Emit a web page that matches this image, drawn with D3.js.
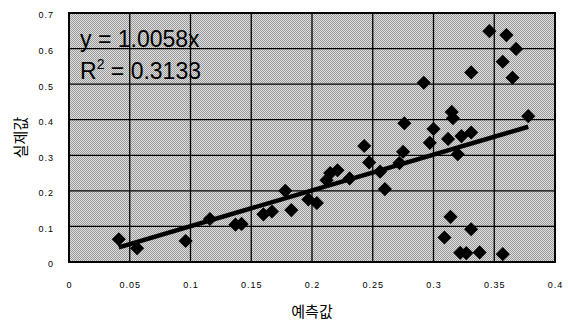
<!DOCTYPE html>
<html>
<head>
<meta charset="utf-8">
<script src="https://cdn.jsdelivr.net/npm/d3@7"></script>
<style>
  body { margin: 0; background: #fff; }
  svg { display: block; font-family: "Liberation Sans", Arial, sans-serif; }
</style>
</head>
<body>
<svg id="chart"></svg>
<script>
const predicted = [
  0.041, 0.056, 0.096, 0.116, 0.137, 0.142, 0.160, 0.167, 0.178, 0.183,
  0.197, 0.204, 0.212, 0.215, 0.221, 0.231, 0.243, 0.247, 0.256, 0.260,
  0.272, 0.275, 0.276, 0.292, 0.297, 0.300, 0.309, 0.312, 0.314, 0.315,
  0.316, 0.320, 0.322, 0.323, 0.327, 0.331, 0.331, 0.331, 0.338, 0.346,
  0.357, 0.357, 0.360, 0.365, 0.368, 0.378
];
const actual = [
  0.064, 0.039, 0.059, 0.121, 0.105, 0.107, 0.134, 0.142, 0.200, 0.146,
  0.176, 0.166, 0.230, 0.250, 0.258, 0.235, 0.326, 0.280, 0.254, 0.205,
  0.278, 0.310, 0.390, 0.504, 0.335, 0.374, 0.069, 0.346, 0.127, 0.422,
  0.404, 0.303, 0.026, 0.354, 0.025, 0.092, 0.364, 0.533, 0.027, 0.649,
  0.563, 0.022, 0.638, 0.518, 0.599, 0.410
];
const xTicks = [0, 0.05, 0.1, 0.15, 0.2, 0.25, 0.3, 0.35, 0.4];
const yTicks = [0, 0.1, 0.2, 0.3, 0.4, 0.5, 0.6, 0.7];
const slope = 1.0058;
const eqText = 'y = 1.0058x';
const r2Value = '0.3133';
const xTitle = '예측값';
const yTitle = '실제값';

const width = 568, height = 322;
const margin = { top: 13, right: 13, bottom: 60, left: 69 };

const svg = d3.select('#chart').attr('width', width).attr('height', height);

// halftone-ish grey for the plot area
const pat = svg.append('defs').append('pattern')
  .attr('id', 'dither').attr('width', 2).attr('height', 2)
  .attr('patternUnits', 'userSpaceOnUse');
pat.append('rect').attr('width', 2).attr('height', 2).attr('fill', '#e0e0e0');
pat.append('rect').attr('width', 1).attr('height', 1).attr('fill', '#989898');
pat.append('rect').attr('x', 1).attr('y', 1).attr('width', 1).attr('height', 1).attr('fill', '#989898');

const x = d3.scaleLinear().domain([0, 0.4]).range([margin.left, width - margin.right]);
const y = d3.scaleLinear().domain([0, 0.7]).range([height - margin.bottom, margin.top]);

svg.append('rect')
  .attr('x', x(0)).attr('y', y(0.7))
  .attr('width', x(0.4) - x(0)).attr('height', y(0) - y(0.7))
  .attr('fill', 'url(#dither)');

// grid
svg.append('g').selectAll('line').data(xTicks.slice(1, -1)).join('line')
  .attr('x1', d => x(d)).attr('x2', d => x(d))
  .attr('y1', y(0.7)).attr('y2', y(0))
  .attr('stroke', '#000').attr('stroke-width', 1.3);
svg.append('g').selectAll('line').data(yTicks.slice(1, -1)).join('line')
  .attr('x1', x(0)).attr('x2', x(0.4))
  .attr('y1', d => y(d)).attr('y2', d => y(d))
  .attr('stroke', '#000').attr('stroke-width', 1.3);

svg.append('rect')
  .attr('x', x(0)).attr('y', y(0.7))
  .attr('width', x(0.4) - x(0)).attr('height', y(0) - y(0.7))
  .attr('fill', 'none').attr('stroke', '#000').attr('stroke-width', 2);

// axes (labels only)
const xAxis = svg.append('g')
  .attr('transform', `translate(0,${y(0) + 17})`)
  .call(d3.axisBottom(x).tickValues(xTicks).tickSize(0).tickFormat(d => String(d)));
const yAxis = svg.append('g')
  .attr('transform', `translate(${x(0) - 12},0)`)
  .call(d3.axisLeft(y).tickValues(yTicks).tickSize(0).tickFormat(d => String(d)));
[xAxis, yAxis].forEach(a => {
  a.select('.domain').remove();
  a.selectAll('text')
    .attr('font-family', '"Liberation Sans", Arial, sans-serif')
    .attr('font-size', 9).attr('letter-spacing', 1).attr('fill', '#000');
});
yAxis.selectAll('text').attr('dy', '0.55em');

// points
const pts = predicted.map((p, i) => [p, actual[i]]);
svg.append('g').selectAll('path').data(pts).join('path')
  .attr('d', d3.symbol(d3.symbolSquare, 100))
  .attr('transform', d => `translate(${x(d[0])},${y(d[1])}) rotate(45)`)
  .attr('fill', '#000');

// trend line through origin
const xMin = d3.min(predicted), xMax = d3.max(predicted);
svg.append('line')
  .attr('x1', x(xMin)).attr('y1', y(slope * xMin))
  .attr('x2', x(xMax)).attr('y2', y(slope * xMax))
  .attr('stroke', '#000').attr('stroke-width', 4.5);

// equation
const eq = svg.append('g').attr('font-size', 23).attr('fill', '#000');
eq.append('text').attr('x', 80).attr('y', 47).text(eqText);
const r2 = eq.append('text').attr('x', 80).attr('y', 79);
r2.append('tspan').text('R');
r2.append('tspan').attr('font-size', 14).attr('dy', -10).text('2');
r2.append('tspan').attr('dy', 10).text(' = ' + r2Value);

// titles
svg.append('text')
  .attr('x', (x(0) + x(0.4)) / 2).attr('y', 317)
  .attr('text-anchor', 'middle')
  .attr('font-family', '"Noto Sans CJK KR", sans-serif')
  .attr('font-size', 15).text(xTitle);
svg.append('text')
  .attr('transform', `translate(26,${(y(0) + y(0.7)) / 2}) rotate(-90)`)
  .attr('text-anchor', 'middle')
  .attr('font-family', '"Noto Sans CJK KR", sans-serif')
  .attr('font-size', 15).text(yTitle);
</script>
</body>
</html>
